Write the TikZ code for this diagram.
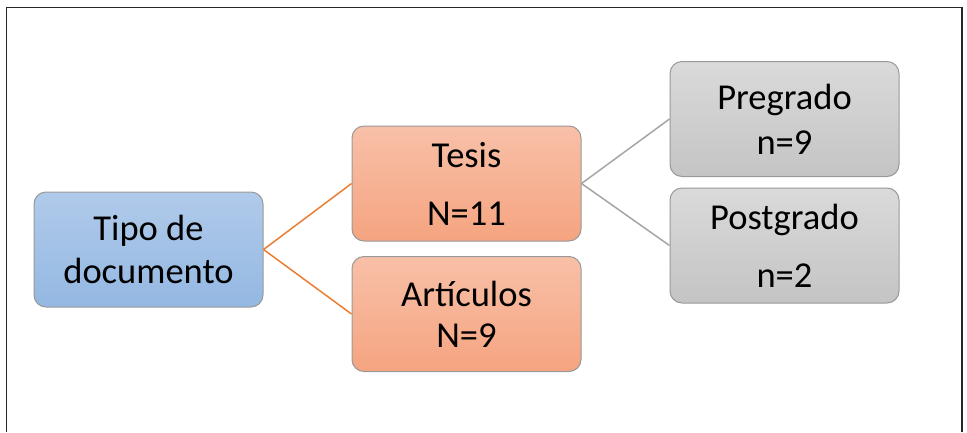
\documentclass[tikz,border=0pt]{standalone}
\usepackage{fontspec}
\setmainfont{Carlito}
\usetikzlibrary{calc}
\tikzset{
	box/.style={draw=black!40, line width=1pt, rounded corners=12pt, minimum width=229pt, minimum height=115pt, align=center, inner sep=0pt, font=\fontsize{36.5}{44}\selectfont},
	bluebox/.style={box, top color={rgb,255:red,176;green,202;blue,234}, bottom color={rgb,255:red,148;green,184;blue,226}},
	orangebox/.style={box, top color={rgb,255:red,248;green,192;blue,168}, bottom color={rgb,255:red,245;green,164;blue,128}},
	graybox/.style={box, top color={rgb,255:red,218;green,218;blue,218}, bottom color={rgb,255:red,196;green,196;blue,196}},
	orangeline/.style={line width=1.5pt, color={rgb,255:red,237;green,125;blue,49}},
	grayline/.style={line width=1.5pt, color={rgb,255:red,165;green,165;blue,165}}
}
\begin{document}
\begin{tikzpicture}[x=1pt, y=-1pt]
		%%%%% FRAME %%%%%
		\useasboundingbox (0, 0) rectangle (967, 432);
		\draw[line width=1.8pt, color=black!85] (6.5, 432) -- (6.5, 7.5) -- (962, 7.5) -- (962, 432);
		
		%%%%% NODES %%%%%
		\node[bluebox] (tipo) at (148.5, 249.5) {Tipo de\\[-1pt]documento};
		
		\node[orangebox] (tesis) at (466.5, 183.5) {Tesis\\[14pt]N=11};
		\node[orangebox] (articulos) at (466.5, 314) {Artículos\\[-3pt]N=9};
		
		\node[graybox] (pregrado) at (784.5, 119) {Pregrado\\[1pt]n=9};
		\node[graybox] (postgrado) at (784.5, 245.5) {Postgrado\\[14pt]n=2};
		
		%%%%% LINES %%%%%
		\draw[orangeline] (tipo.east) -- (tesis.west);
		\draw[orangeline] (tipo.east) -- (articulos.west);
		\draw[grayline] (tesis.east) -- (pregrado.west);
		\draw[grayline] (tesis.east) -- (postgrado.west);
\end{tikzpicture}
\end{document}
